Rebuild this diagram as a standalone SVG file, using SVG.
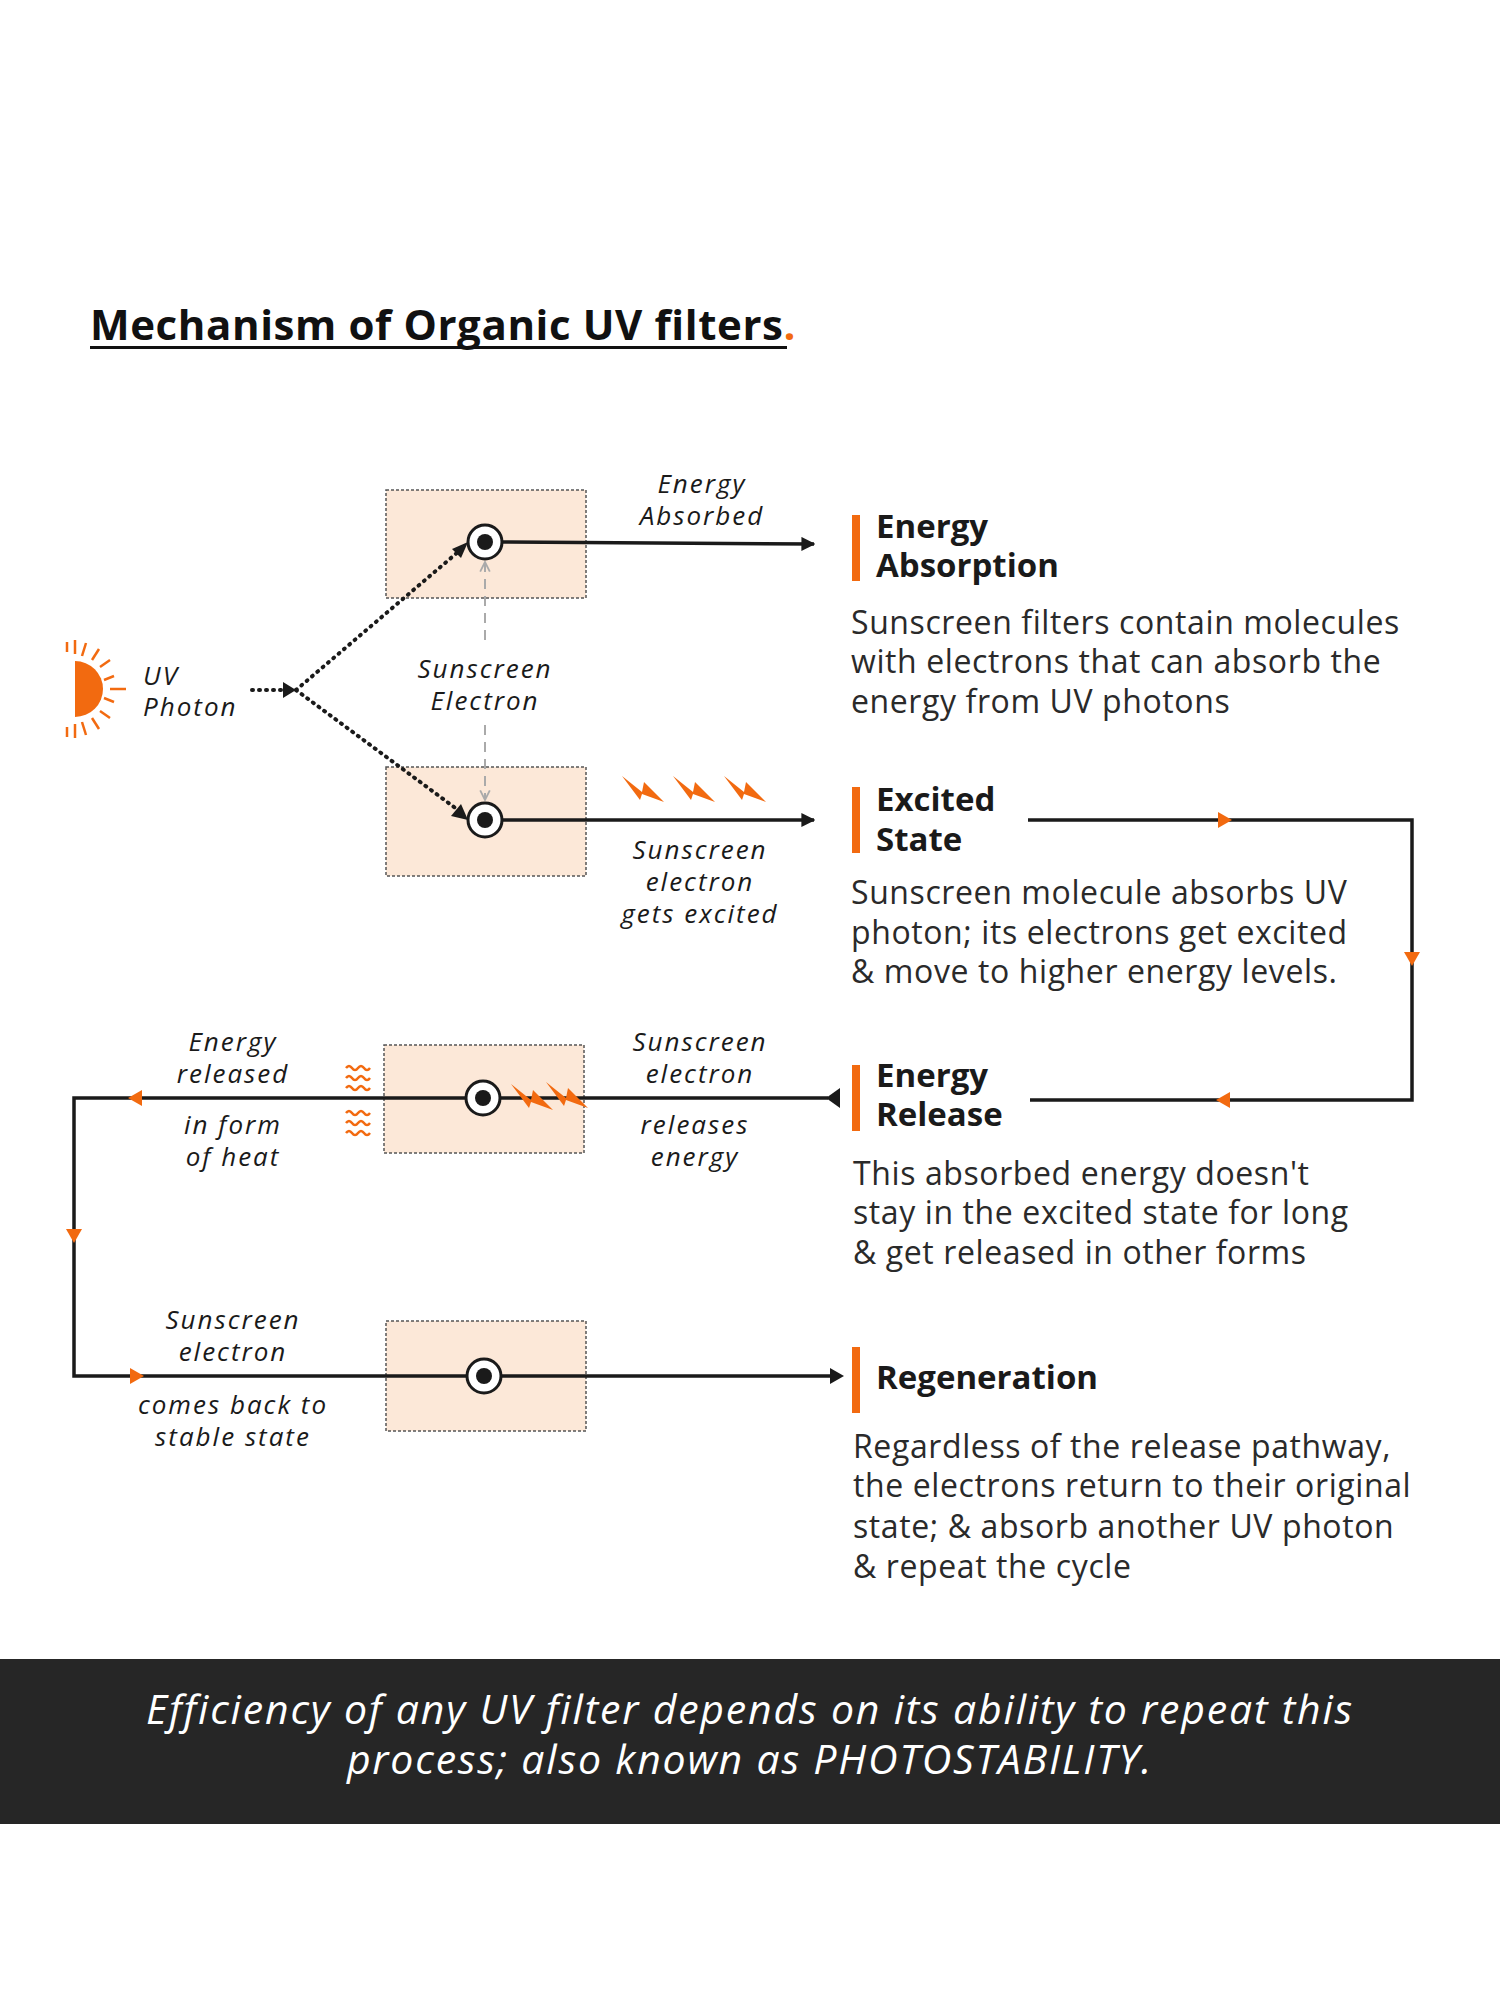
<svg xmlns="http://www.w3.org/2000/svg" width="1500" height="2000" viewBox="0 0 1500 2000">
<style>
.lbl{font-family:"Open Sans",Lato,sans-serif;font-style:italic;font-size:26px;letter-spacing:2px;fill:#1a1a1a;text-anchor:middle}
.hdr{font-family:"Open Sans",Lato,sans-serif;font-weight:bold;font-size:33px;fill:#1a1a1a}
.body{font-family:"Open Sans",Lato,sans-serif;font-size:32px;letter-spacing:0.6px;fill:#2a2a2a}
.box{fill:#fce8d8;stroke:#555;stroke-width:1.5;stroke-dasharray:3 2}
.ln{stroke:#1a1a1a;stroke-width:3.5;fill:none}
.dot{stroke:#1a1a1a;stroke-width:4;stroke-dasharray:1 6;stroke-linecap:round;fill:none}
.bar{fill:#f26a10}
.or{fill:#f26a10}
.bolt{fill:#f26a10}
.wave{stroke:#f26a10;stroke-width:2.5;fill:none}
</style>
<defs>
<marker id="ah" viewBox="0 0 10 10" refX="9" refY="5" markerWidth="4" markerHeight="4" orient="auto"><path d="M0,0 L10,5 L0,10 z" fill="#1a1a1a"/></marker>
<marker id="gh" viewBox="0 0 10 10" refX="9" refY="5" markerWidth="6" markerHeight="6" orient="auto"><path d="M1,1 L9,5 L1,9" fill="none" stroke="#aaa" stroke-width="1.5"/></marker>
<g id="el"><circle r="17" fill="#fff" stroke="#1a1a1a" stroke-width="3"/><circle r="8" fill="#1a1a1a"/></g>
<path id="bt" d="M-18,-14 L2,2 L4,-8 L24,12 L2,4 L0,10 z"/>
<path id="wv" d="M-12,0 q3,-4 6,0 t6,0 t6,0 t6,0"/>
</defs>
<rect width="1500" height="2000" fill="#fff"/>

<g id="title">
<text x="90" y="340" font-family="'Open Sans',Lato,sans-serif" font-weight="bold" font-size="42" letter-spacing="0.6" fill="#111">Mechanism of Organic UV filters<tspan fill="#f26a10">.</tspan></text>
<rect x="90" y="346" width="697" height="3" fill="#111"/>
</g>

<g id="box1"><rect class="box" x="386" y="490" width="200" height="108"/></g>
<g id="box2"><rect class="box" x="386" y="767" width="200" height="109"/></g>
<g id="box3"><rect class="box" x="384" y="1045" width="200" height="108"/></g>
<g id="box4"><rect class="box" x="386" y="1321" width="200" height="110"/></g>

<g id="connectors">
<line class="dot" x1="252" y1="690" x2="285" y2="690"/>
<path d="M283,682 L296,690 L283,698 z" fill="#1a1a1a"/>
<line class="dot" x1="296" y1="690" x2="458" y2="552"/>
<path d="M452,549 L468,542 L461,558 z" fill="#1a1a1a"/>
<line class="dot" x1="296" y1="690" x2="458" y2="810"/>
<path d="M451,816 L468,820 L461,804 z" fill="#1a1a1a"/>
<line x1="485" y1="640" x2="485" y2="562" stroke="#aaa" stroke-width="2" stroke-dasharray="10 7" marker-end="url(#gh)"/>
<line x1="485" y1="725" x2="485" y2="800" stroke="#aaa" stroke-width="2" stroke-dasharray="10 7" marker-end="url(#gh)"/>
<line class="ln" x1="502" y1="542" x2="814" y2="544" marker-end="url(#ah)"/>
<line class="ln" x1="502" y1="820" x2="814" y2="820" marker-end="url(#ah)"/>
<polyline class="ln" points="1028,820 1412,820 1412,1100 1030,1100"/>
<path d="M1218,812 L1232,820 L1218,828 z" class="or"/>
<path d="M1404,952 L1420,952 L1412,966 z" class="or"/>
<path d="M1230,1092 L1216,1100 L1230,1108 z" class="or"/>
<polyline class="ln" points="828,1098 74,1098 74,1376 830,1376"/>
<path d="M840,1088 L826,1098 L840,1108 z" fill="#1a1a1a"/>
<path d="M830,1368 L844,1376 L830,1384 z" fill="#1a1a1a"/>
<path d="M142,1090 L128,1098 L142,1106 z" class="or"/>
<path d="M66,1229 L82,1229 L74,1243 z" class="or"/>
<path d="M130,1368 L144,1376 L130,1384 z" class="or"/>
</g>

<g id="electrons">
<use href="#el" x="485" y="542"/>
<use href="#el" x="485" y="820"/>
<use href="#el" x="483" y="1098"/>
<use href="#el" x="484" y="1376"/>
</g>

<g id="sun">
<path d="M75,661 A28,28 0 0 1 75,717 z" class="or"/>
<g stroke="#f26a10" stroke-width="2.5">
<line x1="75" y1="640" x2="75" y2="654"/><line x1="75" y1="724" x2="75" y2="738"/>
<line x1="86" y1="643" x2="82" y2="656"/><line x1="86" y1="735" x2="82" y2="722"/>
<line x1="99" y1="649" x2="92" y2="660"/><line x1="99" y1="729" x2="92" y2="718"/>
<line x1="110" y1="660" x2="100" y2="667"/><line x1="110" y1="718" x2="100" y2="711"/>
<line x1="114" y1="676" x2="104" y2="680"/><line x1="114" y1="702" x2="104" y2="698"/>
<line x1="110" y1="689" x2="126" y2="689"/>
<line x1="67" y1="642" x2="67" y2="652"/><line x1="67" y1="727" x2="67" y2="737"/>
</g>
<text x="143" y="685" class="lbl" style="text-anchor:start">UV</text>
<text x="143" y="716" class="lbl" style="text-anchor:start">Photon</text>
</g>

<g id="bolts">
<use href="#bt" x="640" y="790" class="bolt"/><use href="#bt" x="691" y="790" class="bolt"/><use href="#bt" x="742" y="790" class="bolt"/>
<use href="#bt" x="529" y="1098" class="bolt"/><use href="#bt" x="564" y="1096" class="bolt"/>
</g>
<g id="heat" class="wave">
<use href="#wv" x="358" y="1068"/><use href="#wv" x="358" y="1078"/><use href="#wv" x="358" y="1088"/>
<use href="#wv" x="358" y="1113"/><use href="#wv" x="358" y="1123"/><use href="#wv" x="358" y="1133"/>
</g>

<g id="labels">
<text class="lbl" x="702" y="493">Energy</text><text class="lbl" x="702" y="525">Absorbed</text>
<text class="lbl" x="485" y="678">Sunscreen</text><text class="lbl" x="485" y="710">Electron</text>
<text class="lbl" x="700" y="859">Sunscreen</text><text class="lbl" x="700" y="891">electron</text><text class="lbl" x="700" y="923">gets excited</text>
<text class="lbl" x="233" y="1051">Energy</text><text class="lbl" x="233" y="1083">released</text>
<text class="lbl" x="233" y="1134">in form</text><text class="lbl" x="233" y="1166">of heat</text>
<text class="lbl" x="700" y="1051">Sunscreen</text><text class="lbl" x="700" y="1083">electron</text>
<text class="lbl" x="695" y="1134">releases</text><text class="lbl" x="695" y="1166">energy</text>
<text class="lbl" x="233" y="1329">Sunscreen</text><text class="lbl" x="233" y="1361">electron</text>
<text class="lbl" x="233" y="1414">comes back to</text><text class="lbl" x="233" y="1446">stable state</text>
</g>

<g id="absorption">
<rect class="bar" x="852" y="515" width="8" height="66"/>
<text class="hdr" x="876" y="538">Energy</text><text class="hdr" x="876" y="577">Absorption</text>
<text class="body" x="851" y="634">Sunscreen filters contain molecules</text>
<text class="body" x="851" y="673">with electrons that can absorb the</text>
<text class="body" x="851" y="713">energy from UV photons</text>
</g>
<g id="excited">
<rect class="bar" x="852" y="787" width="8" height="66"/>
<text class="hdr" x="876" y="811">Excited</text><text class="hdr" x="876" y="851">State</text>
<text class="body" x="851" y="904">Sunscreen molecule absorbs UV</text>
<text class="body" x="851" y="944">photon; its electrons get excited</text>
<text class="body" x="851" y="983">&amp; move to higher energy levels.</text>
</g>
<g id="release">
<rect class="bar" x="852" y="1065" width="8" height="66"/>
<text class="hdr" x="876" y="1087">Energy</text><text class="hdr" x="876" y="1126">Release</text>
<text class="body" x="853" y="1185">This absorbed energy doesn't</text>
<text class="body" x="853" y="1224">stay in the excited state for long</text>
<text class="body" x="853" y="1264">&amp; get released in other forms</text>
</g>
<g id="regeneration">
<rect class="bar" x="852" y="1347" width="8" height="66"/>
<text class="hdr" x="876" y="1389">Regeneration</text>
<text class="body" x="853" y="1458">Regardless of the release pathway,</text>
<text class="body" x="853" y="1497">the electrons return to their original</text>
<text class="body" x="853" y="1538">state; &amp; absorb another UV photon</text>
<text class="body" x="853" y="1578">&amp; repeat the cycle</text>
</g>

<g id="footer">
<rect x="0" y="1659" width="1500" height="165" fill="#262626"/>
<text x="750" y="1724" text-anchor="middle" font-family="'Open Sans',Lato,sans-serif" font-style="italic" font-size="41" letter-spacing="1.8" fill="#fff">Efficiency of any UV filter depends on its ability to repeat this</text>
<text x="750" y="1774" text-anchor="middle" font-family="'Open Sans',Lato,sans-serif" font-style="italic" font-size="41" letter-spacing="1.8" fill="#fff">process; also known as PHOTOSTABILITY.</text>
</g>
</svg>
